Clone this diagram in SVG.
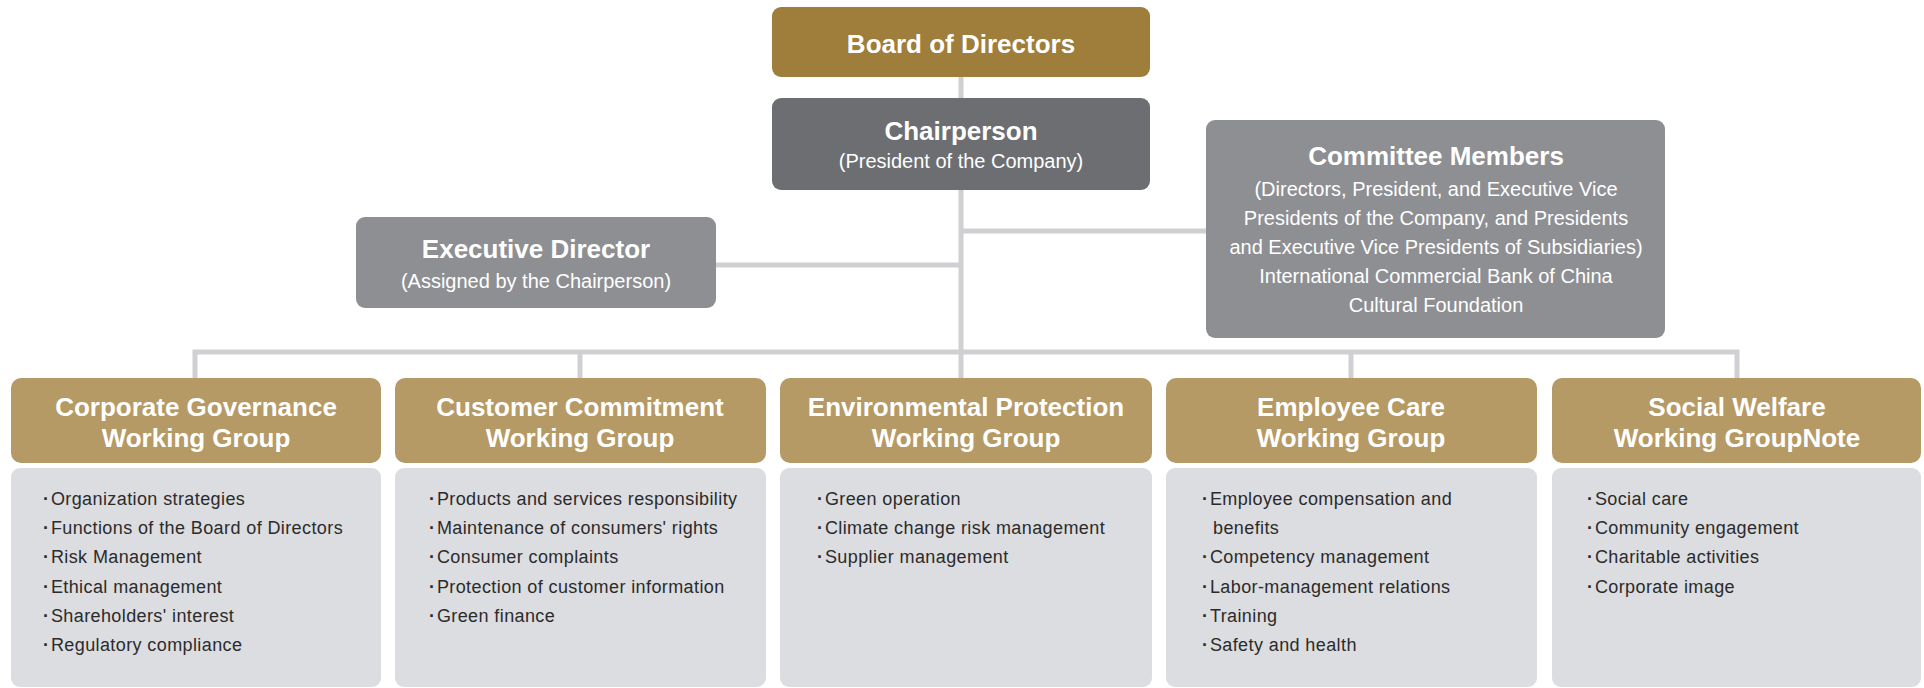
<svg xmlns="http://www.w3.org/2000/svg" width="1924" height="688" viewBox="0 0 1924 688">
  <style>
    .title { font-family: "Liberation Sans", Arial, sans-serif; font-weight: bold; font-size: 26px; fill: #ffffff; text-anchor: middle; }
    .sub { font-family: "Liberation Sans", Arial, sans-serif; font-size: 20px; fill: #ffffff; text-anchor: middle; }
    .item { font-family: "Liberation Sans", Arial, sans-serif; font-size: 18px; fill: #2b2b2b; letter-spacing: 0.4px; }
    .dot { font-weight: bold; }
    .board { fill: #9f7d3a; }
    .chair { fill: #6d6e72; }
    .side { fill: #8e8f93; }
    .head { fill: #b59a66; }
    .body { fill: #dcdde0; }
    .link { fill: none; stroke: #d0d0d3; stroke-width: 5; }
  </style>

  <!-- connectors -->
  <g id="connectors">
    <line class="link" x1="961" y1="77" x2="961" y2="378"/>
    <line class="link" x1="716" y1="265" x2="961" y2="265"/>
    <line class="link" x1="961" y1="231" x2="1206" y2="231"/>
    <polyline class="link" points="195,378 195,352 1737,352 1737,378"/>
    <line class="link" x1="580" y1="352" x2="580" y2="378"/>
    <line class="link" x1="1351" y1="352" x2="1351" y2="378"/>
  </g>

  <!-- top of the hierarchy -->
  <g id="board">
    <rect class="board" x="772" y="7" width="378" height="70" rx="9"/>
    <text class="title" x="961" y="53">Board of Directors</text>
  </g>

  <g id="chairperson">
    <rect class="chair" x="772" y="98" width="378" height="92" rx="9"/>
    <text class="title" x="961" y="140">Chairperson</text>
    <text class="sub" x="961" y="168">(President of the Company)</text>
  </g>

  <g id="executive-director">
    <rect class="side" x="356" y="217" width="360" height="91" rx="9"/>
    <text class="title" x="536" y="258">Executive Director</text>
    <text class="sub" x="536" y="288">(Assigned by the Chairperson)</text>
  </g>

  <g id="committee-members">
    <rect class="side" x="1206" y="120" width="459" height="218" rx="9"/>
    <text class="title" x="1436" y="165">Committee Members</text>
    <text class="sub" x="1436" y="196">(Directors, President, and Executive Vice</text>
    <text class="sub" x="1436" y="225">Presidents of the Company, and Presidents</text>
    <text class="sub" x="1436" y="254">and Executive Vice Presidents of Subsidiaries)</text>
    <text class="sub" x="1436" y="283">International Commercial Bank of China</text>
    <text class="sub" x="1436" y="312">Cultural Foundation</text>
  </g>

  <!-- working groups -->
  <g id="corporate-governance">
    <rect class="head" x="11" y="378" width="370" height="85" rx="10"/>
    <text class="title" x="196" y="416">Corporate Governance</text>
    <text class="title" x="196" y="447">Working Group</text>
    <rect class="body" x="11" y="468" width="370" height="219" rx="9"/>
    <text class="item" x="43" y="505"><tspan class="dot">·</tspan><tspan dx="1.5">Organization strategies</tspan></text>
    <text class="item" x="43" y="534"><tspan class="dot">·</tspan><tspan dx="1.5">Functions of the Board of Directors</tspan></text>
    <text class="item" x="43" y="563"><tspan class="dot">·</tspan><tspan dx="1.5">Risk Management</tspan></text>
    <text class="item" x="43" y="593"><tspan class="dot">·</tspan><tspan dx="1.5">Ethical management</tspan></text>
    <text class="item" x="43" y="622"><tspan class="dot">·</tspan><tspan dx="1.5">Shareholders' interest</tspan></text>
    <text class="item" x="43" y="651"><tspan class="dot">·</tspan><tspan dx="1.5">Regulatory compliance</tspan></text>
  </g>

  <g id="customer-commitment">
    <rect class="head" x="395" y="378" width="371" height="85" rx="10"/>
    <text class="title" x="580" y="416">Customer Commitment</text>
    <text class="title" x="580" y="447">Working Group</text>
    <rect class="body" x="395" y="468" width="371" height="219" rx="9"/>
    <text class="item" x="429" y="505"><tspan class="dot">·</tspan><tspan dx="1.5">Products and services responsibility</tspan></text>
    <text class="item" x="429" y="534"><tspan class="dot">·</tspan><tspan dx="1.5">Maintenance of consumers' rights</tspan></text>
    <text class="item" x="429" y="563"><tspan class="dot">·</tspan><tspan dx="1.5">Consumer complaints</tspan></text>
    <text class="item" x="429" y="593"><tspan class="dot">·</tspan><tspan dx="1.5">Protection of customer information</tspan></text>
    <text class="item" x="429" y="622"><tspan class="dot">·</tspan><tspan dx="1.5">Green finance</tspan></text>
  </g>

  <g id="environmental-protection">
    <rect class="head" x="780" y="378" width="372" height="85" rx="10"/>
    <text class="title" x="966" y="416">Environmental Protection</text>
    <text class="title" x="966" y="447">Working Group</text>
    <rect class="body" x="780" y="468" width="372" height="219" rx="9"/>
    <text class="item" x="817" y="505"><tspan class="dot">·</tspan><tspan dx="1.5">Green operation</tspan></text>
    <text class="item" x="817" y="534"><tspan class="dot">·</tspan><tspan dx="1.5">Climate change risk management</tspan></text>
    <text class="item" x="817" y="563"><tspan class="dot">·</tspan><tspan dx="1.5">Supplier management</tspan></text>
  </g>

  <g id="employee-care">
    <rect class="head" x="1166" y="378" width="371" height="85" rx="10"/>
    <text class="title" x="1351" y="416">Employee Care</text>
    <text class="title" x="1351" y="447">Working Group</text>
    <rect class="body" x="1166" y="468" width="371" height="219" rx="9"/>
    <text class="item" x="1202" y="505"><tspan class="dot">·</tspan><tspan dx="1.5">Employee compensation and</tspan></text>
    <text class="item" x="1213" y="534">benefits</text>
    <text class="item" x="1202" y="563"><tspan class="dot">·</tspan><tspan dx="1.5">Competency management</tspan></text>
    <text class="item" x="1202" y="593"><tspan class="dot">·</tspan><tspan dx="1.5">Labor-management relations</tspan></text>
    <text class="item" x="1202" y="622"><tspan class="dot">·</tspan><tspan dx="1.5">Training</tspan></text>
    <text class="item" x="1202" y="651"><tspan class="dot">·</tspan><tspan dx="1.5">Safety and health</tspan></text>
  </g>

  <g id="social-welfare">
    <rect class="head" x="1552" y="378" width="369" height="85" rx="10"/>
    <text class="title" x="1737" y="416">Social Welfare</text>
    <text class="title" x="1737" y="447">Working GroupNote</text>
    <rect class="body" x="1552" y="468" width="369" height="219" rx="9"/>
    <text class="item" x="1587" y="505"><tspan class="dot">·</tspan><tspan dx="1.5">Social care</tspan></text>
    <text class="item" x="1587" y="534"><tspan class="dot">·</tspan><tspan dx="1.5">Community engagement</tspan></text>
    <text class="item" x="1587" y="563"><tspan class="dot">·</tspan><tspan dx="1.5">Charitable activities</tspan></text>
    <text class="item" x="1587" y="593"><tspan class="dot">·</tspan><tspan dx="1.5">Corporate image</tspan></text>
  </g>
</svg>
